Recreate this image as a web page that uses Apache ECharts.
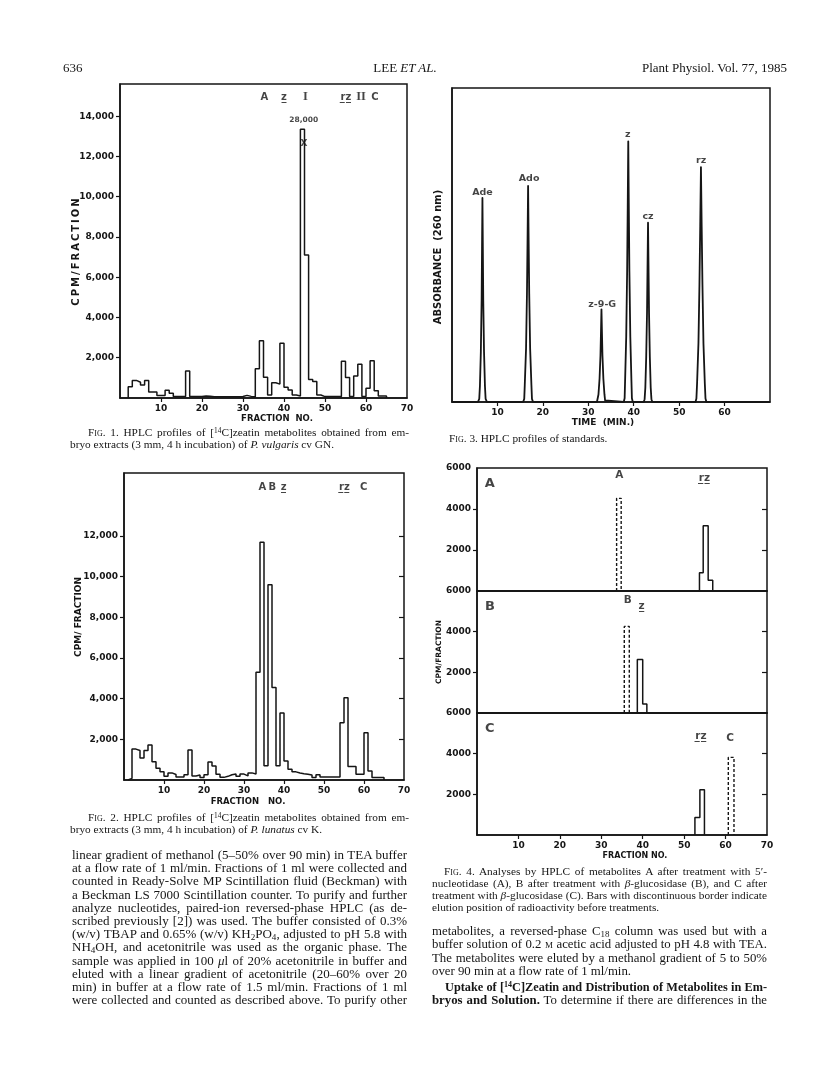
<!DOCTYPE html>
<html>
<head>
<meta charset="utf-8">
<script src="https://cdn.jsdelivr.net/npm/echarts@6/dist/echarts.min.js"></script>
<style>
body { margin: 0; background: #fff; }
#page { position: relative; width: 816px; height: 1073px; overflow: hidden; background: #fff; }
#chart { position: absolute; left: 0; top: 0; width: 816px; height: 1073px; }
.ln { position: absolute; font-family: "Liberation Serif", "DejaVu Serif", serif; color: #151515;
      white-space: nowrap; line-height: 14px; height: 14px; }
.body { font-size: 13px; }
.rbody { font-size: 12.8px; }
.bold { font-size: 12.3px; font-weight: bold; }
.cap { font-size: 11.3px; }
.sc { font-variant: small-caps; }
sup { font-size: 0.65em; vertical-align: 0.45em; line-height: 0; }
sub { font-size: 0.7em; vertical-align: -0.2em; line-height: 0; }
</style>
</head>
<body>
<div id="page">
  <div id="chart"></div>

  <!-- en-tete -->
  <div class="ln body" style="left:63px;top:61px;">636</div>
  <div class="ln body" style="left:330px;top:61px;width:150px;text-align:center;">LEE <i>ET AL.</i></div>
  <div class="ln body" style="left:560px;top:61px;width:227px;text-align:right;">Plant Physiol. Vol. 77, 1985</div>

  <!-- legende fig 1 -->
  <div class="ln cap j" style="left:88px;top:425px;width:321px;"><span class="sc">Fig.</span> 1. HPLC profiles of [<sup>14</sup>C]zeatin metabolites obtained from em-</div>
  <div class="ln cap" style="left:70px;top:437px;">bryo extracts (3 mm, 4 h incubation) of <i>P. vulgaris</i> cv GN.</div>

  <!-- legende fig 3 -->
  <div class="ln cap" style="left:449px;top:431px;"><span class="sc">Fig.</span> 3. HPLC profiles of standards.</div>

  <!-- legende fig 2 -->
  <div class="ln cap j" style="left:88px;top:810px;width:321px;"><span class="sc">Fig.</span> 2. HPLC profiles of [<sup>14</sup>C]zeatin metabolites obtained from em-</div>
  <div class="ln cap" style="left:70px;top:822px;">bryo extracts (3 mm, 4 h incubation) of <i>P. lunatus</i> cv K.</div>

  <!-- legende fig 4 -->
  <div class="ln cap j" style="left:444px;top:864px;width:323px;"><span class="sc">Fig.</span> 4. Analyses by HPLC of metabolites A after treatment with 5&prime;-</div>
  <div class="ln cap j" style="left:432px;top:876px;width:335px;">nucleotidase (A), B after treatment with <i>&beta;</i>-glucosidase (B), and C after</div>
  <div class="ln cap j" style="left:432px;top:888px;width:335px;">treatment with <i>&beta;</i>-glucosidase (C). Bars with discontinuous border indicate</div>
  <div class="ln cap" style="left:432px;top:900px;">elution position of radioactivity before treatments.</div>

  <!-- texte colonne gauche -->
  <div class="ln body j" style="left:72px;top:848px;width:335px;">linear gradient of methanol (5&ndash;50% over 90 min) in TEA buffer</div>
  <div class="ln body j" style="left:72px;top:861px;width:335px;">at a flow rate of 1 ml/min. Fractions of 1 ml were collected and</div>
  <div class="ln body j" style="left:72px;top:874px;width:335px;">counted in Ready-Solve MP Scintillation fluid (Beckman) with</div>
  <div class="ln body j" style="left:72px;top:888px;width:335px;">a Beckman LS 7000 Scintillation counter. To purify and further</div>
  <div class="ln body j" style="left:72px;top:901px;width:335px;">analyze nucleotides, paired-ion reversed-phase HPLC (as de-</div>
  <div class="ln body j" style="left:72px;top:914px;width:335px;">scribed previously [2]) was used. The buffer consisted of 0.3%</div>
  <div class="ln body j" style="left:72px;top:927px;width:335px;">(w/v) TBAP and 0.65% (w/v) KH<sub>2</sub>PO<sub>4</sub>, adjusted to pH 5.8 with</div>
  <div class="ln body j" style="left:72px;top:940px;width:335px;">NH<sub>4</sub>OH, and acetonitrile was used as the organic phase. The</div>
  <div class="ln body j" style="left:72px;top:954px;width:335px;">sample was applied in 100 <i>&mu;</i>l of 20% acetonitrile in buffer and</div>
  <div class="ln body j" style="left:72px;top:967px;width:335px;">eluted with a linear gradient of acetonitrile (20&ndash;60% over 20</div>
  <div class="ln body j" style="left:72px;top:980px;width:335px;">min) in buffer at a flow rate of 1.5 ml/min. Fractions of 1 ml</div>
  <div class="ln body j" style="left:72px;top:993px;width:335px;">were collected and counted as described above. To purify other</div>

  <!-- texte colonne droite -->
  <div class="ln rbody j" style="left:432px;top:924px;width:335px;">metabolites, a reversed-phase C<sub>18</sub> column was used but with a</div>
  <div class="ln rbody j" style="left:432px;top:937px;width:335px;">buffer solution of 0.2 <span class="sc">m</span> acetic acid adjusted to pH 4.8 with TEA.</div>
  <div class="ln rbody j" style="left:432px;top:951px;width:335px;">The metabolites were eluted by a methanol gradient of 5 to 50%</div>
  <div class="ln rbody" style="left:432px;top:964px;">over 90 min at a flow rate of 1 ml/min.</div>
  <div class="ln bold j" style="left:445px;top:980px;width:322px;">Uptake of [<sup>14</sup>C]Zeatin and Distribution of Metabolites in Em-</div>
  <div class="ln rbody j" style="left:432px;top:993px;width:335px;"><b>bryos and Solution.</b> To determine if there are differences in the</div>
</div>

<script>
// fig 1 : fractions 2..64, cpm par fraction
var fig1Start = 2;
var fig1Counts = [560, 875, 780, 640, 870, 300, 300, 120, 120, 380, 230, 80, 80, 80, 1340, 70, 70, 70, 100, 90,
  60, 60, 60, 60, 60, 60, 60, 70, 130, 80, 50, 1450, 2850, 1030, 150, 760, 690, 2720, 530, 400, 150, 100,
  13350, 7100, 925, 825, 150, 70, 70, 70, 70, 70, 1830, 1020, 70, 1090, 1680, 70, 480, 1850, 360, 100, 100];
var fig1Peaks = ['A', 'z\u0332', 'I', 'r\u0332z\u0332', 'II', 'C'];
var fig1PeakX = [35.2, 40.0, 45.2, 55.1, 58.8, 62.2];

// fig 2 : fractions 1..64
var fig2Start = 1;
var fig2Counts = [80, 1520, 1450, 1080, 1450, 1720, 900, 580, 400, 180, 350, 270, 150, 150, 260, 1480, 200, 250, 120, 260,
  880, 690, 280, 130, 180, 260, 300, 180, 290, 200, 350, 300, 5300, 11700, 700, 9600, 4550, 700, 3300, 930,
  525, 400, 345, 310, 280, 245, 120, 260, 150, 150, 150, 150, 150, 2820, 4050, 660, 660, 280, 280, 2330, 440, 120, 120, 120];
var fig2Peaks = ['A', 'B', 'z\u0332', 'r\u0332z\u0332', 'C'];
var fig2PeakX = [34.6, 37.1, 39.9, 55.1, 59.9];

// fig 3 : etalons, temps (min) / absorbance relative
var adePeak = [[5.7, 0], [6.0, 1], [6.15, 5.2], [6.35, 16], [6.52, 32.5], [6.61, 49], [6.7, 65], [6.79, 49], [6.88, 32.5], [7.05, 16], [7.25, 5.2], [7.4, 1], [7.7, 0]];
var adoPeak = [[15.65, 0], [15.9, 1], [16.02, 5.5], [16.3, 17], [16.5, 34.4], [16.63, 51.6], [16.75, 68.8], [16.87, 51.6], [17.0, 34.4], [17.2, 17], [17.48, 5.5], [17.6, 1], [17.85, 0]];
var z9gPeak = [[31.9, 0], [32.1, 0.5], [32.24, 2.4], [32.48, 7.4], [32.68, 14.8], [32.79, 22], [32.9, 29.5], [33.01, 22], [33.12, 14.8], [33.32, 7.4], [33.56, 2.4], [33.7, 0.5], [33.9, 0]];
var zPeak = [[37.8, 0], [38.0, 1.2], [38.1, 6.6], [38.35, 20.8], [38.55, 41.5], [38.68, 62], [38.8, 83], [38.92, 62], [39.05, 41.5], [39.25, 20.8], [39.5, 6.6], [39.6, 1.2], [39.8, 0]];
var czPeak = [[42.2, 0], [42.4, 0.9], [42.56, 4.6], [42.75, 14.3], [42.93, 28.5], [43.04, 42.8], [43.15, 57.1], [43.26, 42.8], [43.37, 28.5], [43.55, 14.3], [43.74, 4.6], [43.9, 0.9], [44.1, 0]];
var rzPeak = [[53.6, 0], [53.8, 1.1], [53.95, 6], [54.25, 18.7], [54.47, 37.4], [54.64, 56], [54.8, 74.8], [54.96, 56], [55.13, 37.4], [55.35, 18.7], [55.65, 6], [55.8, 1.1], [56.0, 0]];
var fig3Names = ['Ade', 'Ado', 'z-9-G', 'z', 'cz', 'rz'];
var fig3NameX = [6.7, 16.97, 33.07, 38.67, 43.15, 54.84];
var fig3NameY = [66.8, 71.1, 31.2, 85.1, 59.0, 76.8];

// fig 4 : bords des barres (fraction) et hauteurs
var aDashEdges = [33.7, 34.8];   var aDashVals = [4520];
var aRzEdges = [53.7, 54.6, 55.8, 56.9];  var aRzVals = [890, 3180, 530];
var bDashEdges = [35.55, 36.76]; var bDashVals = [4260];
var bZEdges = [38.7, 40.0, 41.0];  var bZVals = [2630, 440];
var cRzEdges = [52.6, 53.8, 54.9]; var cRzVals = [860, 2220];
var cDashEdges = [60.66, 62.03]; var cDashVals = [3820];

var xTicks = [10, 20, 30, 40, 50, 60];
var xLabels = [10, 20, 30, 40, 50, 60, 70];
var fig1YTicks = [2000, 4000, 6000, 8000, 10000, 12000, 14000];
var fig2YTicks = [2000, 4000, 6000, 8000, 10000, 12000];
var fig4YTicks = [2000, 4000];
var fig4YLabels = [2000, 4000, 6000];

// lignes justifiees : on ajuste l'espacement des mots a la largeur de la colonne
(function() {
    var lines = document.querySelectorAll('.ln.j');
    Array.prototype.forEach.call(lines, function(el) {
        var target = parseFloat(el.style.width);
        el.style.width = 'auto';
        var w = el.getBoundingClientRect().width;
        var spaces = (el.textContent.match(/ /g) || []).length;
        if (spaces > 0) el.style.wordSpacing = ((target - w) / spaces) + 'px';
        el.style.width = target + 'px';
    });
})();

(function() {
    var ink = '#151515';
    var tickFont = { color: ink, fontFamily: 'DejaVu Sans', fontWeight: 'bold', fontSize: 9 };

    // histogramme en escalier a partir des fractions
    function stepData(start, counts) {
        var d = [[start, 0]];
        counts.forEach(function(v, i) { d.push([start + i, v]); });
        d.push([start + counts.length, 0]);
        return d;
    }
    function edgeStep(edges, vals) {
        var d = [[edges[0], 0]];
        vals.forEach(function(v, i) { d.push([edges[i], v]); });
        d.push([edges[edges.length - 1], 0]);
        return d;
    }
    function labelSeries(gi, names, xs, ys, font) {
        return {
            type: 'scatter', xAxisIndex: gi, yAxisIndex: gi, symbolSize: 0, silent: true,
            data: names.map(function(n, i) {
                var item = { name: n, value: [xs[i], ys[i]] };
                if (n === 'I' || n === 'II') item.label = { fontFamily: 'Liberation Serif', fontSize: 12.5 };
                return item;
            }),
            label: Object.assign({ show: true, position: 'inside', formatter: '{b}', color: ink,
                fontFamily: 'DejaVu Sans', fontWeight: 'bold', fontSize: 10 }, font || {})
        };
    }
    function xAxis(gi, withLabels) {
        return {
            type: 'value', gridIndex: gi, min: 0, max: 70,
            axisLine: { show: true, lineStyle: { color: ink, width: 1.5 } },
            axisTick: { show: !!withLabels, inside: false, length: 4, customValues: xTicks, lineStyle: { color: ink, width: 1.2 } },
            axisLabel: Object.assign({ show: !!withLabels, margin: 6, customValues: withLabels === 'no70' ? xTicks : xLabels }, tickFont),
            splitLine: { show: false }
        };
    }
    function yAxis(gi, max, ticks, labels, fmt) {
        return {
            type: 'value', gridIndex: gi, min: 0, max: max,
            axisLine: { show: true, lineStyle: { color: ink, width: 1.5 } },
            axisTick: { show: ticks.length > 0, inside: false, length: 4, customValues: ticks, lineStyle: { color: ink, width: 1.2 } },
            axisLabel: Object.assign({ show: labels.length > 0, margin: 6, customValues: labels, formatter: fmt }, tickFont),
            splitLine: { show: false }
        };
    }
    function rightTicks(gi, max, ticks) {
        return {
            type: 'value', gridIndex: gi, min: 0, max: max, position: 'right',
            axisLine: { show: false }, axisLabel: { show: false }, splitLine: { show: false },
            axisTick: { show: true, inside: true, length: 5, customValues: ticks, lineStyle: { color: ink, width: 1.2 } }
        };
    }
    function comma(v) { return v.toLocaleString('en-US'); }
    function plain(v) { return String(v); }
    // titre d'axe un peu espace, comme sur la figure imprimee
    function spaced(s) { return s.split('').join('\u2009'); }
    var line = { color: ink, width: 1.5 };
    var dashed = { color: ink, width: 1.4, type: [3, 2] };
    var gridBox = { show: true, borderColor: ink, borderWidth: 1.5, backgroundColor: 'transparent' };

    var myechart = echarts.init(document.getElementById('chart'));
    var option = {
        animation: false,
        textStyle: { fontFamily: 'DejaVu Sans' },
        grid: [
            Object.assign({ left: 120, top: 84, width: 287, height: 314 }, gridBox),   // fig 1
            Object.assign({ left: 452, top: 88, width: 318, height: 314 }, gridBox),   // fig 3
            Object.assign({ left: 124, top: 473, width: 280, height: 307 }, gridBox),  // fig 2
            Object.assign({ left: 477, top: 468, width: 290, height: 123 }, gridBox),  // fig 4 A
            Object.assign({ left: 477, top: 591, width: 290, height: 122 }, gridBox),  // fig 4 B
            Object.assign({ left: 477, top: 713, width: 290, height: 122 }, gridBox)   // fig 4 C
        ],
        xAxis: [xAxis(0, true), xAxis(1, 'no70'), xAxis(2, true), xAxis(3, false), xAxis(4, false), xAxis(5, true)],
        yAxis: [
            yAxis(0, 15600, fig1YTicks, fig1YTicks, comma),
            yAxis(1, 100, [], [], null),
            yAxis(2, 15100, fig2YTicks, fig2YTicks, comma),
            yAxis(3, 6000, fig4YTicks, fig4YLabels, plain),
            yAxis(4, 6000, fig4YTicks, fig4YLabels, plain),
            yAxis(5, 6000, fig4YTicks, fig4YLabels, plain),
            rightTicks(2, 15100, fig2YTicks),
            rightTicks(3, 6000, fig4YTicks),
            rightTicks(4, 6000, fig4YTicks),
            rightTicks(5, 6000, fig4YTicks)
        ],
        series: [
            { type: 'line', xAxisIndex: 0, yAxisIndex: 0, step: 'end', symbol: 'none', lineStyle: line, data: stepData(fig1Start, fig1Counts) },
            { type: 'line', xAxisIndex: 1, yAxisIndex: 1, symbol: 'none', lineStyle: { color: ink, width: 1.8, join: 'round' },
              data: [[0, 0]].concat(adePeak, adoPeak, z9gPeak, zPeak, czPeak, rzPeak, [[70, 0]]) },
            { type: 'line', xAxisIndex: 2, yAxisIndex: 2, step: 'end', symbol: 'none', lineStyle: line, data: stepData(fig2Start, fig2Counts) },
            { type: 'line', xAxisIndex: 3, yAxisIndex: 3, step: 'end', symbol: 'none', lineStyle: dashed, data: edgeStep(aDashEdges, aDashVals) },
            { type: 'line', xAxisIndex: 3, yAxisIndex: 3, step: 'end', symbol: 'none', lineStyle: line, data: edgeStep(aRzEdges, aRzVals) },
            { type: 'line', xAxisIndex: 4, yAxisIndex: 4, step: 'end', symbol: 'none', lineStyle: dashed, data: edgeStep(bDashEdges, bDashVals) },
            { type: 'line', xAxisIndex: 4, yAxisIndex: 4, step: 'end', symbol: 'none', lineStyle: line, data: edgeStep(bZEdges, bZVals) },
            { type: 'line', xAxisIndex: 5, yAxisIndex: 5, step: 'end', symbol: 'none', lineStyle: line, data: edgeStep(cRzEdges, cRzVals) },
            { type: 'line', xAxisIndex: 5, yAxisIndex: 5, step: 'end', symbol: 'none', lineStyle: dashed, data: edgeStep(cDashEdges, cDashVals) },
            // etiquettes des pics
            labelSeries(0, fig1Peaks, fig1PeakX, fig1Peaks.map(function() { return 14950; })),
            labelSeries(0, ['28,000'], [44.8], [13800], { fontSize: 7.5 }),
            labelSeries(0, ['X'], [44.9], [12650], { fontSize: 9 }),
            labelSeries(2, fig2Peaks, fig2PeakX, fig2Peaks.map(function() { return 14380; })),
            labelSeries(1, fig3Names, fig3NameX, fig3NameY, { fontSize: 9.5 }),
            labelSeries(3, ['A'], [3.1], [5250], { fontSize: 13 }),
            labelSeries(4, ['B'], [3.1], [5230], { fontSize: 13 }),
            labelSeries(5, ['C'], [3.1], [5250], { fontSize: 13 }),
            labelSeries(3, ['A', 'r\u0332z\u0332'], [34.35, 54.9], [5660, 5510], { fontSize: 10.5 }),
            labelSeries(4, ['B', 'z\u0332'], [36.4, 39.75], [5520, 5230], { fontSize: 10.5 }),
            labelSeries(5, ['r\u0332z\u0332', 'C'], [54.07, 61.07], [4870, 4770], { fontSize: 10.5 })
        ],
        graphic: [
            { type: 'text', x: 76, y: 252, rotation: Math.PI / 2, style: { text: spaced('CPM/FRACTION'), fill: ink, font: 'bold 10px "DejaVu Sans"', align: 'center', verticalAlign: 'middle' } },
            { type: 'text', x: 277, y: 419, style: { text: 'FRACTION  NO.', fill: ink, font: 'bold 8.5px "DejaVu Sans"', align: 'center', verticalAlign: 'middle' } },
            { type: 'text', x: 438, y: 257, rotation: Math.PI / 2, style: { text: 'ABSORBANCE  (260 nm)', fill: ink, font: 'bold 10px "DejaVu Sans"', align: 'center', verticalAlign: 'middle' } },
            { type: 'text', x: 603, y: 423, style: { text: 'TIME  (MIN.)', fill: ink, font: 'bold 9px "DejaVu Sans"', align: 'center', verticalAlign: 'middle' } },
            { type: 'text', x: 79, y: 617, rotation: Math.PI / 2, style: { text: 'CPM/ FRACTION', fill: ink, font: 'bold 9px "DejaVu Sans"', align: 'center', verticalAlign: 'middle' } },
            { type: 'text', x: 248, y: 802, style: { text: 'FRACTION   NO.', fill: ink, font: 'bold 8.5px "DejaVu Sans"', align: 'center', verticalAlign: 'middle' } },
            { type: 'text', x: 439, y: 652, rotation: Math.PI / 2, style: { text: 'CPM/FRACTION', fill: ink, font: 'bold 7.5px "DejaVu Sans"', align: 'center', verticalAlign: 'middle' } },
            { type: 'text', x: 635, y: 856, style: { text: 'FRACTION NO.', fill: ink, font: 'bold 8px "DejaVu Sans"', align: 'center', verticalAlign: 'middle' } }
        ]
    };
    myechart.setOption(option);
})();
</script>
</body>
</html>
